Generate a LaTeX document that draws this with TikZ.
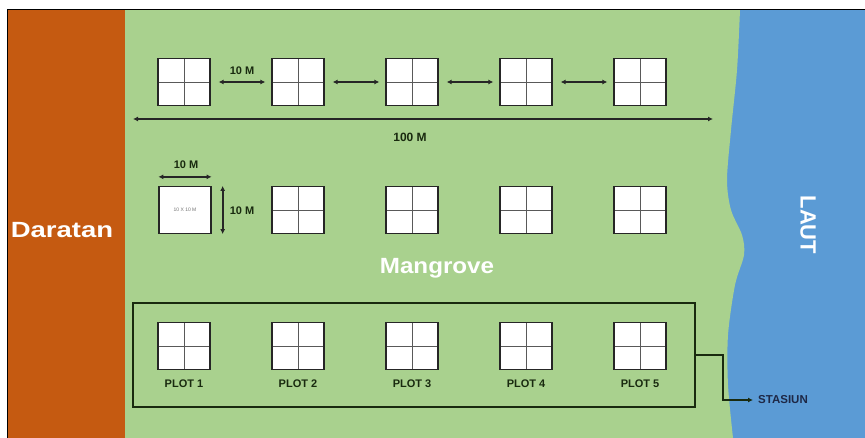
\documentclass[tikz,border=0pt]{standalone}
\usepackage{fontspec}
\setmainfont{Liberation Sans}
\usetikzlibrary{arrows.meta, positioning}

\definecolor{daratan}{RGB}{197,90,17}
\definecolor{mangrove}{RGB}{169,209,142}
\definecolor{laut}{RGB}{91,155,213}
\definecolor{tulisan}{RGB}{25,42,15}
\definecolor{navy}{RGB}{30,40,70}

\tikzset{
  kotak/.style={draw=black!85, line width=1.3pt, fill=white,
    minimum width=52pt, minimum height=47pt, inner sep=0pt},
  subplot/.style={kotak, path picture={
    \draw[line width=0.8pt, black!65]
      (path picture bounding box.north) -- (path picture bounding box.south)
      (path picture bounding box.west) -- (path picture bounding box.east);}},
  panah/.style={{Latex[length=5pt,width=5pt]}-{Latex[length=5pt,width=5pt]},
    line width=1.7pt, black!85},
  teks/.style={font=\bfseries\fontsize{11}{13}\selectfont, text=tulisan, inner sep=0pt},
  judul/.style={font=\bfseries\fontsize{22}{24}\selectfont, text=white, inner sep=0pt}
}

\begin{document}
\begin{tikzpicture}[x=1pt, y=-1pt]
\useasboundingbox (0,0) rectangle (865,438);

% daratan, laut, mangrove
\fill[daratan] (7,10) rectangle (125,438);
\fill[laut] (700,10) rectangle (865,438);
\fill[mangrove] (125,10) -- plot[smooth] coordinates {(740,10) (737,70) (731,130)
  (727,180) (731,210) (742,235) (744,255) (735,285) (728,335) (728,385) (733,438)}
  -- (125,438) -- cycle;
\draw[line width=1pt] (865,10) -- (7,10) -- (7,438);

% tulisan besar
\node[judul] (darat) at (62,230) {\scalebox{1.25}[1]{Daratan}};
\node[judul] (mangrv) at (437,268) {\scalebox{1.1}[1]{Mangrove}};
\node[judul, rotate=-90] (laut) at (808,225) {LAUT};

% baris 1: jarak antar plot
\foreach \i in {1,...,5} {
  \node[subplot] (a\i) at ({184+114*(\i-1)},82) {};
}
\foreach \i/\j in {1/2,2/3,3/4,4/5} {
  \draw[panah] ([xshift=8pt]a\i.east) -- ([xshift=-6pt]a\j.west);
}
\node[teks] (jarak) at (242,71) {10 M};

% panjang transek
\coordinate (kiri) at (133,119);
\coordinate (kanan) at (713,119);
\draw[panah, line width=2.2pt] (kiri) -- (kanan);
\node[teks, font=\bfseries\fontsize{12}{14}\selectfont] (panjang) at (410,137) {100 M};

% baris 2: ukuran plot
\node[kotak] (b1) at (185,210) {\fontsize{5}{6}\selectfont\color{black!55}10 X 10 M};
\foreach \i in {2,...,5} {
  \node[subplot] (b\i) at ({184+114*(\i-1)},210) {};
}
\draw[panah] ([yshift=9pt]b1.north west) -- ([yshift=9pt]b1.north east);
\node[teks] (lebar) at (186,165) {10 M};
\draw[panah] ([xshift=11pt]b1.north east) -- ([xshift=11pt]b1.south east);
\node[teks] (tinggi) at (242,211) {10 M};

% baris 3: stasiun
\node[draw=tulisan, line width=1.5pt, minimum width=562pt, minimum height=104pt]
  (stasiun) at (414,355) {};
\foreach \i in {1,...,5} {
  \node[subplot] (plot\i) at ({184+114*(\i-1)},346) {};
  \node[teks, below=9pt of plot\i] (nama\i) {PLOT \i};
}
\coordinate (belok) at (723,400);
\node[teks, text=navy, font=\bfseries\fontsize{11.5}{13}\selectfont, anchor=west]
  (stasiunteks) at (758,400) {STASIUN};
\draw[line width=1.2pt, tulisan, -{Latex[length=5pt,width=5pt]}]
  (stasiun.east) -| (belok) -- ([xshift=-5pt]stasiunteks.west);

\end{tikzpicture}
\end{document}
